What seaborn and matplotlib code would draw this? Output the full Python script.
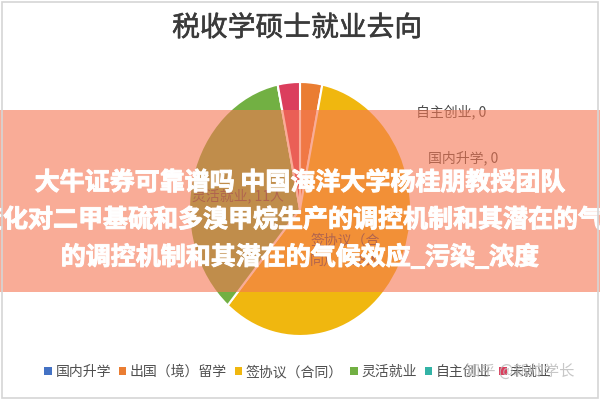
import matplotlib
matplotlib.use("Agg")
import matplotlib.pyplot as plt
import matplotlib.patheffects as pe
import seaborn as sns
import numpy as np
from matplotlib.patches import Rectangle, Patch

# ---- data ----
categories = ["国内升学", "出国（境）留学", "签协议（合同）", "灵活就业", "自主创业", "未就业"]
counts = [0, 1, 18, 11, 0, 1]
pie_labels = ["国内升学, 0", "出国（境）留学, 1人", "签协议（合\n同），18人", "灵活就业, 11人", "自主创业, 0", "未就业, 1"]
colors = ["#4472C4", "#EA7D32", "#F0B70F", "#72B043", "#33B3A6", "#DB3E5D"]
title = "税收学硕士就业去向"
banner_lines = ["大牛证券可靠谱吗 中国海洋大学杨桂朋教授团队",
                "变化对二甲基硫和多溴甲烷生产的调控机制和其潜在的气",
                "的调控机制和其潜在的气候效应_污染_浓度"]
watermark = "知乎 @新帅学长"

sns.set_theme(style="white")
plt.rcParams['font.family'] = ['Noto Sans CJK SC', 'DejaVu Sans']

W, H = 600, 400
fig = plt.figure(figsize=(6, 4), dpi=100)
fig.patch.set_facecolor("white")

def fx(x):
    return x / W

def fy(y):
    return 1 - y / H

# pie axes (slightly elliptical like the reference)
cx, cy, rx, ry = 300, 209, 111, 127
ax = fig.add_axes([fx(cx - rx), fy(cy + ry), 2 * rx / W, 2 * ry / H])
wedges, _ = ax.pie(counts, colors=colors, startangle=90, counterclock=False, radius=1,
                   wedgeprops=dict(edgecolor="white", linewidth=1.5))
ax.set_aspect("auto")
ax.set_xlim(-1, 1)
ax.set_ylim(-1, 1)
ax.axis("off")

# title
fig.text(fx(297), fy(28), title, ha="center", va="center", fontsize=20, color="#3A3A3A",
         path_effects=[pe.withStroke(linewidth=0.4, foreground="#3A3A3A")])

label_color = "#4A4A4A"
def wedge_point(w, r):
    mid = np.deg2rad((w.theta1 + w.theta2) / 2)
    return r * np.cos(mid), r * np.sin(mid)

ax.annotate(pie_labels[5], xy=wedge_point(wedges[5], 1.02), xycoords="data",
            xytext=(fx(237), fy(63)), textcoords="figure fraction", ha="right", va="center",
            fontsize=10, color=label_color,
            arrowprops=dict(arrowstyle="-", color="#A6A6A6", lw=1, shrinkA=3, shrinkB=0))
ax.annotate(pie_labels[1], xy=wedge_point(wedges[1], 1.02), xycoords="data",
            xytext=(fx(386), fy(63)), textcoords="figure fraction", ha="left", va="center",
            fontsize=10, color=label_color,
            arrowprops=dict(arrowstyle="-", color="#A6A6A6", lw=1, shrinkA=3, shrinkB=0))

fig.text(fx(451), fy(112), pie_labels[4], ha="center", va="center", fontsize=10, color=label_color, zorder=1)
fig.text(fx(463), fy(158), pie_labels[0], ha="center", va="center", fontsize=10, color=label_color, zorder=1)
fig.text(fx(238), fy(196), pie_labels[3], ha="center", va="center", fontsize=10, color=label_color, zorder=1)
fig.text(fx(345), fy(250), pie_labels[2], ha="center", va="center", fontsize=10, color=label_color,
         linespacing=1.5, zorder=1)

# translucent banner overlay
fig.add_artist(Rectangle((0, fy(292)), 1, (292 - 110) / H, transform=fig.transFigure,
                         facecolor=(245 / 255, 118 / 255, 82 / 255), alpha=0.6, edgecolor="none", zorder=5))
bold = [pe.withStroke(linewidth=0.7, foreground="white")]
fig.text(0.5, fy(183), banner_lines[0], ha="center", va="center", fontsize=18, fontweight="bold",
         color="white", zorder=6, path_effects=bold)
fig.text(fx(-22), fy(220), banner_lines[1], ha="left", va="center", fontsize=18, fontweight="bold",
         color="white", zorder=6, path_effects=bold)
fig.text(0.5, fy(257), banner_lines[2], ha="center", va="center", fontsize=18, fontweight="bold",
         color="white", zorder=6, path_effects=bold)

# legend
handles = [Patch(facecolor=c, edgecolor="none") for c in colors]
fig.legend(handles, categories, loc="center", bbox_to_anchor=(fx(298), fy(372)), ncol=6,
           frameon=False, fontsize=10, handlelength=0.55, handleheight=0.55,
           handletextpad=0.25, columnspacing=0.55, labelcolor="#4F4F4F")

# watermark
fig.text(fx(520), fy(371), watermark, ha="center", va="center", fontsize=11,
         color="#BDBDBD", alpha=0.85, zorder=7)

# light frame
fig.add_artist(Rectangle((0.003, 0.004), 0.993, 0.992, transform=fig.transFigure,
                         fill=False, edgecolor="#D5D5D5", lw=1.2, zorder=8))

fig.savefig("out.png", dpi=100)
